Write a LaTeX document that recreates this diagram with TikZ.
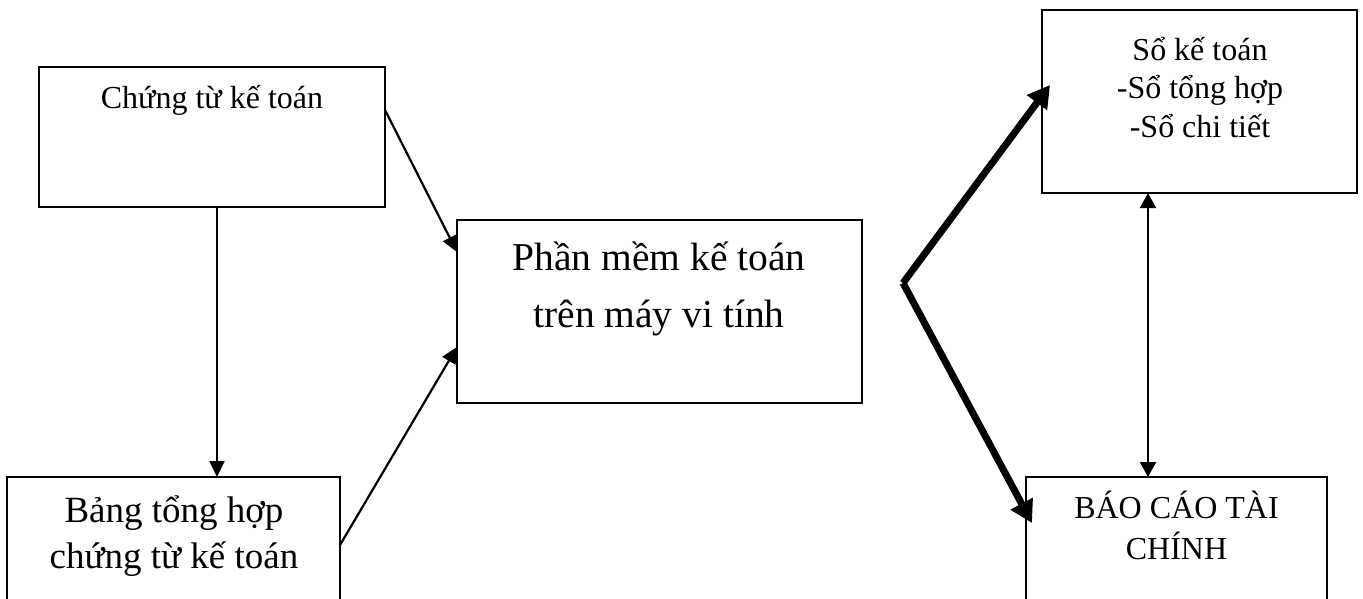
\documentclass[tikz,border=0pt]{standalone}
\usepackage{fontspec}
\setmainfont{Liberation Serif}
\usetikzlibrary{arrows.meta}
\tikzset{
  box/.style={draw, line width=2pt, inner sep=0pt, outer sep=0pt, anchor=north west},
  lbl/.style={anchor=base, align=center, inner sep=0pt},
  thin/.style={line width=2.2pt, -{Triangle[length=16pt,width=15pt]}},
  thinboth/.style={line width=2.2pt, {Triangle[length=15pt,width=16pt]}-{Triangle[length=15pt,width=16pt]}},
  thick/.style={line width=7pt, -{Triangle[length=22pt,width=24pt]}}
}
\begin{document}
\begin{tikzpicture}[x=1pt,y=-1pt]
\clip (0,0) rectangle (1363,598);
\fill[white] (0,0) rectangle (1363,598);
% boxes
\node[box, minimum width=346pt, minimum height=140pt] (A) at (39,67) {};
\node[box, minimum width=333pt, minimum height=160pt] (B) at (7,477) {};
\node[box, minimum width=405pt, minimum height=183pt] (C) at (457,220) {};
\node[box, minimum width=315pt, minimum height=183pt] (D) at (1042,10) {};
\node[box, minimum width=301pt, minimum height=160pt] (E) at (1026,477) {};
% texts (base anchor = baseline of the last line)
\node[lbl, font=\fontsize{32}{41}\selectfont] (At) at (212,108) {Chứng từ kế toán};
\node[lbl, font=\fontsize{37}{46}\selectfont] (Bt) at (174,568) {Bảng tổng hợp\\chứng từ kế toán};
\node[lbl, font=\fontsize{39.5}{57}\selectfont] (Ct) at (659,327) {Phần mềm kế toán\\trên máy vi tính};
\node[lbl, font=\fontsize{32}{38.5}\selectfont] (Dt) at (1200,137) {Sổ kế toán\\-Sổ tổng hợp\\-Sổ chi tiết};
\node[lbl, font=\fontsize{32}{41}\selectfont] (Et) at (1176.5,559) {BÁO CÁO TÀI\\CHÍNH};
% connectors
\draw[thin] ([yshift=-43pt]A.north east) -- ([yshift=-32pt]C.north west);
\draw[thin] ([yshift=-68pt]B.north east) -- ([yshift=-127pt]C.north west);
\draw[thin] ([xshift=5pt]A.south) -- ([xshift=5pt]A.south |- B.north);
\draw[thinboth] ([xshift=-51.5pt]D.south) -- ([xshift=-51.5pt]D.south |- E.north);
\coordinate (J) at (903,283);
\coordinate (Dt1) at (1050,85);
\coordinate (Et1) at (1032,523);
\draw[thick] (J) -- (Dt1);
\draw[thick] (J) -- (Et1);
\end{tikzpicture}
\end{document}
